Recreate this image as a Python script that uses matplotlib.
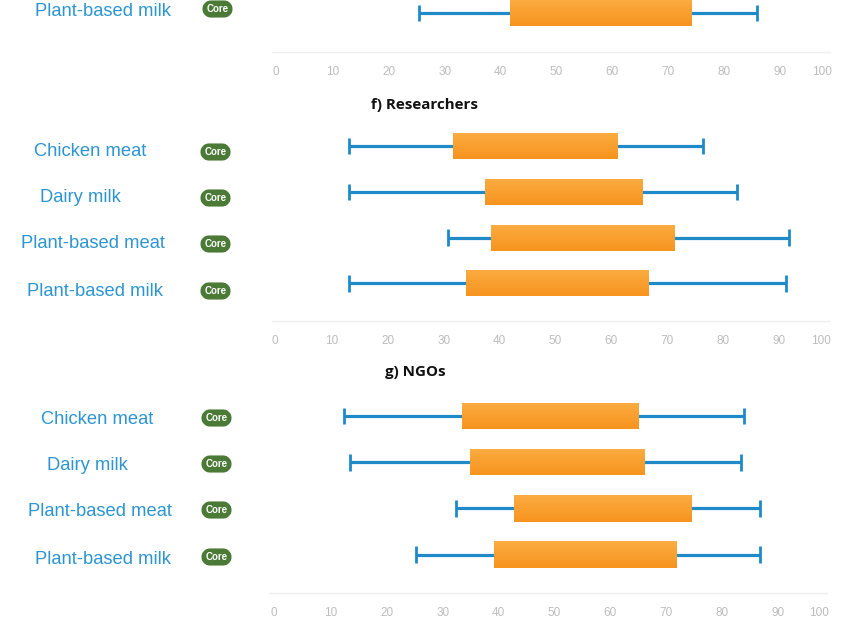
import matplotlib
matplotlib.use("Agg")
import matplotlib.pyplot as plt
import numpy as np
from matplotlib.colors import LinearSegmentedColormap
from matplotlib.patches import FancyBboxPatch
from matplotlib.transforms import ScaledTranslation

W, H = 850, 624
TICKS = list(range(0, 101, 10))

cats_e = ["Plant-based milk"]
cats = ["Chicken meat", "Dairy milk", "Plant-based meat", "Plant-based milk"]

e_lo = [25.4]; e_q1 = [41.7]; e_q3 = [74.1]; e_hi = [85.9]
f_lo = [13.1, 13.1, 30.8, 13.1]
f_q1 = [31.7, 37.4, 38.5, 34.0]
f_q3 = [61.2, 65.5, 71.4, 66.6]
f_hi = [76.4, 82.5, 91.8, 91.3]
g_lo = [12.3, 13.4, 32.4, 25.2]
g_q1 = [33.5, 34.9, 42.8, 39.2]
g_q3 = [65.0, 66.2, 74.5, 71.8]
g_hi = [83.9, 83.4, 86.8, 86.8]

BLUE = "#1F8AC8"
ORANGE = "#F9A02C"
LABEL = "#2C95D2"
GREEN = "#4A7A35"
GRAY = "#BDBDBD"
RULE = "#EFEFEF"
SCALE = 5.5875  # pixels per x unit
SHADE = LinearSegmentedColormap.from_list("box", ["#FBAC42", "#F7941F"])
SHADE_IMG = np.linspace(0, 1, 32).reshape(-1, 1)

fig = plt.figure(figsize=(W / 100, H / 100), dpi=100, facecolor="white")

over = fig.add_axes([0, 0, 1, 1], zorder=5)
over.set_xlim(0, W); over.set_ylim(H, 0); over.axis("off"); over.patch.set_alpha(0)


def panel(zero_px, rule_left, rule_right, top, bottom, first_row_px, step,
          names, lo, q1, q3, hi, label_lefts, label_ys, badge_x, badge_ys):
    left = rule_left
    right = zero_px + 100 * SCALE + 2
    ax = fig.add_axes([left / W, 1 - bottom / H, (right - left) / W, (bottom - top) / H])
    xlim = ((left - zero_px) / SCALE, (right - zero_px) / SCALE)
    ylim = ((bottom - first_row_px) / step, (top - first_row_px) / step)
    rows = list(range(len(names)))
    ax.hlines(rows, lo, hi, color=BLUE, lw=2.3, zorder=2)
    ax.vlines(lo, [r - 0.18 for r in rows], [r + 0.18 for r in rows], color=BLUE, lw=2.0, zorder=2)
    ax.vlines(hi, [r - 0.18 for r in rows], [r + 0.18 for r in rows], color=BLUE, lw=2.0, zorder=2)
    bars = ax.barh(rows, [b - a for a, b in zip(q1, q3)], left=q1, height=0.57, color=ORANGE, zorder=3)
    for bar in bars:
        img = ax.imshow(SHADE_IMG, cmap=SHADE, aspect="auto", zorder=4, origin="upper",
                        extent=(bar.get_x(), bar.get_x() + bar.get_width(),
                                bar.get_y() + bar.get_height(), bar.get_y()))
        img.set_clip_path(bar)
    ax.set_xlim(*xlim)
    ax.set_ylim(*ylim)
    for s in ("top", "left", "right"):
        ax.spines[s].set_visible(False)
    ax.spines["bottom"].set_color(RULE)
    ax.spines["bottom"].set_linewidth(1.0)
    ax.spines["bottom"].set_bounds((rule_left - zero_px) / SCALE, (rule_right - zero_px) / SCALE)
    ax.set_yticks([])
    ax.set_xticks(TICKS)
    ax.tick_params(axis="x", length=0, pad=10, colors=GRAY)
    labels = ax.get_xticklabels()
    for t in labels:
        t.set_fontfamily(["Liberation Sans Narrow", "Liberation Sans"])
        t.set_fontsize(8.5)
    # the last label sits inside the end of the rule, as in the reference
    labels[-1].set_transform(labels[-1].get_transform()
                             + ScaledTranslation(-(zero_px + 100 * SCALE - rule_right + 8) / 100, 0,
                                                 fig.dpi_scale_trans))
    labels[0].set_transform(labels[0].get_transform()
                            + ScaledTranslation(-1 / 100, 0, fig.dpi_scale_trans))
    for n, lx, ly in zip(names, label_lefts, label_ys):
        over.text(lx, ly + 2, n, color=LABEL, fontsize=13.2, family="Liberation Sans",
                  ha="left", va="center")
    for by in badge_ys:
        over.add_patch(FancyBboxPatch((badge_x - 9.5, by - 3), 19, 6,
                                      boxstyle="round,pad=0,rounding_size=3",
                                      mutation_aspect=1, fc=GREEN, ec=GREEN, lw=8, joinstyle="round"))
        over.text(badge_x, by, "Core", color="white", fontsize=7,
                  family=["Liberation Sans Narrow", "Liberation Sans"],
                  ha="center", va="center", fontweight="bold")
    return ax


panel(277, 272, 830, 0, 52, 13, 46, cats_e, e_lo, e_q1, e_q3, e_hi,
      [35], [10], 217.5, [9])
panel(276, 272, 829, 124, 321, 146, 45.8, cats, f_lo, f_q1, f_q3, f_hi,
      [34, 40, 21, 27], [150, 195, 241, 289], 215.5, [152, 198, 244, 291])
panel(275, 270, 827, 396, 593, 416, 46.2, cats, g_lo, g_q1, g_q3, g_hi,
      [41, 47, 28, 35], [418, 463, 509, 557], 216.5, [418, 464, 510, 557])

over.text(371, 105, "f) Researchers", fontsize=10.9, fontweight="bold", family="Open Sans",
          color="#111111", ha="left", va="center")
over.text(385, 372, "g) NGOs", fontsize=10.9, fontweight="bold", family="Open Sans",
          color="#111111", ha="left", va="center")

fig.savefig("out.png", dpi=100)
